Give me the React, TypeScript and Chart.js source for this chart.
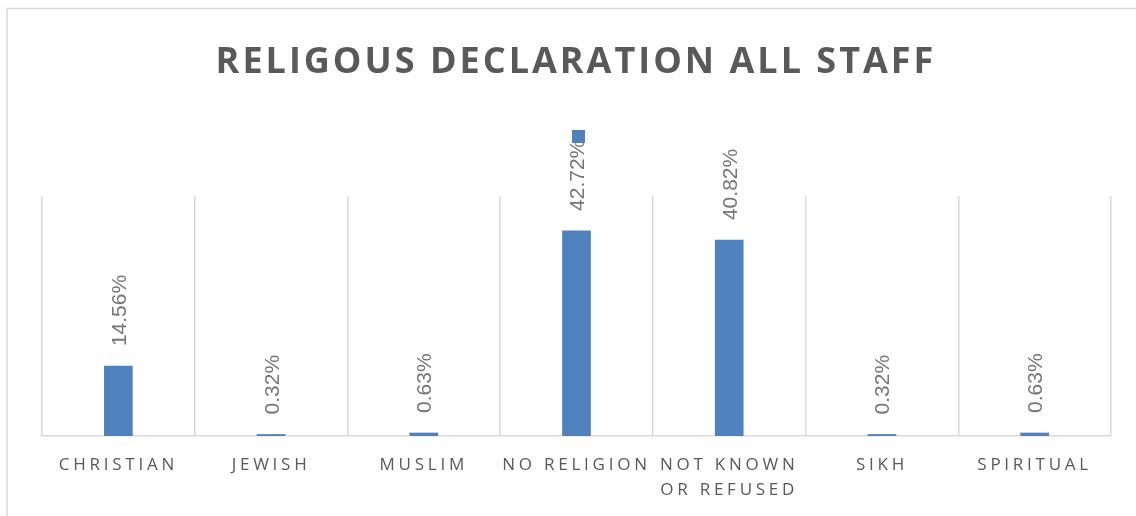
import React, { useEffect, useRef } from "react";
import { Chart, registerables } from "chart.js";

Chart.register(...registerables);

const TITLE = "RELIGOUS DECLARATION ALL STAFF";
const categories: (string | string[])[] = [
  "CHRISTIAN",
  "JEWISH",
  "MUSLIM",
  "NO RELIGION",
  ["NOT KNOWN", "OR REFUSED"],
  "SIKH",
  "SPIRITUAL",
];
const percentValues = [14.56, 0.32, 0.63, 42.72, 40.82, 0.32, 0.63];
const yAxisMax = 50;

const BAR_COLOR = "#4f81bd";
const GRID_COLOR = "#d9d9d9";
const TEXT_COLOR = "#595959";
const LABEL_COLOR = "#767676";

const decorPlugin = {
  id: "decor",
  beforeDraw(chart: any) {
    const ctx = chart.ctx;
    ctx.letterSpacing = "3.75px";
  },
  afterDraw(chart: any) {
    const ctx = chart.ctx;
    ctx.save();
    ctx.letterSpacing = "0px";
    // data labels
    const meta = chart.getDatasetMeta(0);
    ctx.font = "21px 'Liberation Sans', Arial, sans-serif";
    ctx.fillStyle = LABEL_COLOR;
    ctx.textAlign = "left";
    ctx.textBaseline = "alphabetic";
    meta.data.forEach((bar: any, i: number) => {
      const v = percentValues[i];
      ctx.save();
      ctx.translate(bar.x, bar.y - 20);
      ctx.rotate(-Math.PI / 2);
      ctx.fillText(v.toFixed(2) + "%", 0, 7.5);
      ctx.restore();
    });
    // title
    const area = chart.chartArea;
    const cx = (area.left + area.right) / 2;
    ctx.letterSpacing = "3px";
    ctx.font = "bold 36px 'Open Sans', sans-serif";
    ctx.fillStyle = TEXT_COLOR;
    ctx.textAlign = "center";
    ctx.fillText(TITLE, cx - 0.5, 73);
    // legend marker (series with no name)
    ctx.fillStyle = BAR_COLOR;
    ctx.fillRect(cx - 4.5, 130, 13, 13);
    // outer frame
    ctx.strokeStyle = GRID_COLOR;
    ctx.lineWidth = 1.5;
    ctx.strokeRect(7, 8.5, 1200, 600);
    ctx.restore();
  },
};

export default function App() {
  const ref = useRef<HTMLCanvasElement | null>(null);

  useEffect(() => {
    document.body.style.margin = "0";
    const canvas = ref.current;
    if (!canvas) return;
    const chart = new Chart(canvas, {
      type: "bar",
      data: {
        labels: categories,
        datasets: [
          {
            label: "",
            data: percentValues,
            backgroundColor: BAR_COLOR,
            borderWidth: 0,
            barThickness: 28,
          },
        ],
      },
      options: {
        responsive: false,
        animation: false,
        layout: { padding: { left: 42, right: 25, top: 196, bottom: 0 } },
        plugins: {
          legend: { display: false },
          title: { display: false },
          tooltip: { enabled: false },
        },
        scales: {
          x: {
            afterFit: (scale: any) => {
              scale.height = 80;
            },
            grid: {
              display: true,
              offset: true,
              drawTicks: false,
              color: GRID_COLOR,
              lineWidth: 1.5,
            },
            border: { display: true, color: GRID_COLOR, width: 1.5 },
            ticks: {
              color: TEXT_COLOR,
              padding: 17,
              maxRotation: 0,
              autoSkip: false,
              font: { family: "'Open Sans', sans-serif", size: 17, lineHeight: 1.45 },
            },
          },
          y: {
            display: false,
            min: 0,
            max: yAxisMax,
          },
        },
      },
      plugins: [decorPlugin],
    });
    return () => chart.destroy();
  }, []);

  return (
    <div style={{ position: "absolute", left: 0, top: 0, width: 1136, height: 516 }}>
      <canvas ref={ref} width={1136} height={516} style={{ display: "block" }} />
    </div>
  );
}
